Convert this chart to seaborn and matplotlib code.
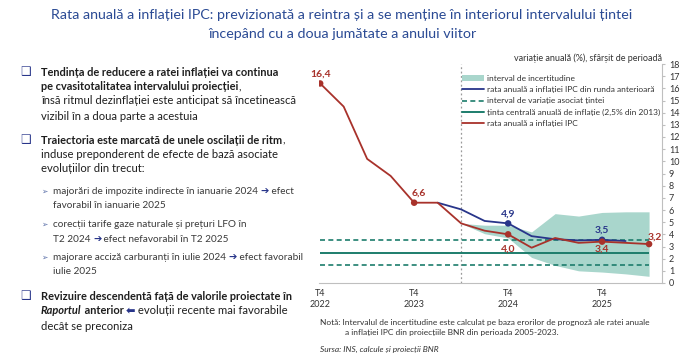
import matplotlib
matplotlib.use("Agg")

import numpy as np
import pandas as pd
import matplotlib.pyplot as plt
import seaborn as sns
from matplotlib.lines import Line2D
from matplotlib.patches import Patch

# ── Data ─────────────────────────────────────────────────────────────────────
quarters = ["T4 2022", "T1 2023", "T2 2023", "T3 2023", "T4 2023", "T1 2024",
            "T2 2024", "T3 2024", "T4 2024", "T1 2025", "T2 2025", "T3 2025",
            "T4 2025", "T1 2026", "T2 2026"]
inflation = [16.4, 14.5, 10.2, 8.8, 6.6, 6.6, 4.9, 4.3, 4.0, 2.9, 3.7, 3.3, 3.4, 3.3, 3.2]

prev_quarters = quarters[5:14]
prev_round = [6.6, 6.05, 5.1, 4.9, 3.85, 3.6, 3.5, 3.55, 3.45]

band_quarters = quarters[6:]
band_low = [4.9, 4.05, 3.7, 2.1, 1.45, 1.0, 0.9, 0.75, 0.55]
band_high = [4.9, 4.75, 4.75, 4.2, 5.7, 5.5, 5.8, 5.85, 5.85]

target = 2.5
target_low = 1.5
target_high = 3.5
last_actual = "T2 2024"

tick_quarters = ["T4 2022", "T4 2023", "T4 2024", "T4 2025"]
tick_labels = ["T4\n2022", "T4\n2023", "T4\n2024", "T4\n2025"]

red_points = ["T4 2022", "T4 2023", "T4 2024", "T4 2025", "T2 2026"]
red_labels = ["16,4", "6,6", "4,0", "3,4", "3,2"]
blue_points = ["T4 2024", "T4 2025"]
blue_labels = ["4,9", "3,5"]

legend_labels = ["interval de incertitudine",
                 "rata anuală a inflației IPC din runda anterioară",
                 "interval de variație asociat țintei",
                 "ținta centrală anuală de inflație (2,5% din 2013)",
                 "rata anuală a inflației IPC"]

# ── Style ────────────────────────────────────────────────────────────────────
sns.set_style("white")
plt.rcParams["font.family"] = ["Lato", "DejaVu Sans"]

RED = "#a8322b"
BLUE = "#28358a"
GREEN = "#1d7d6c"
BAND = "#a9d6cc"
TITLE = "#2a4a94"
TXT = "#1e1e1e"
SUB = "#3a3a3a"
AXIS = "#bfbfbf"

pos = {q: i for i, q in enumerate(quarters)}

W, H = 700, 354
fig = plt.figure(figsize=(W / 100, H / 100), dpi=100)


def fx(x):
    return x / W


def fy(y):
    return 1 - y / H


# ── Chart ────────────────────────────────────────────────────────────────────
ax = fig.add_axes([fx(319), fy(283), fx(662 - 319), (283 - 64) / H])

ax.fill_between([pos[q] for q in band_quarters], band_low, band_high,
                color=BAND, linewidth=0, zorder=1)

n = len(quarters) - 1
ax.hlines(target, 0, n, color=GREEN, lw=1.4, zorder=2)
ax.hlines([target_low, target_high], 0, n, color=GREEN, lw=1.2,
          linestyles=(0, (3, 2)), zorder=2)
ax.axvline(pos[last_actual], color="#9a9a9a", lw=0.9, ls=(0, (1.5, 2)), zorder=1)

sns.lineplot(x=[pos[q] for q in prev_quarters], y=prev_round, color=BLUE,
             lw=1.3, ax=ax, zorder=3)
sns.lineplot(x=[pos[q] for q in quarters], y=inflation, color=RED,
             lw=1.3, ax=ax, zorder=4)

red_vals = [inflation[pos[q]] for q in red_points]
blue_vals = [prev_round[prev_quarters.index(q)] for q in blue_points]
sns.scatterplot(x=[pos[q] for q in blue_points], y=blue_vals, color=BLUE,
                s=22, edgecolor="none", ax=ax, zorder=5)
sns.scatterplot(x=[pos[q] for q in red_points], y=red_vals, color=RED,
                s=22, edgecolor="none", ax=ax, zorder=6)

red_offsets = [(0, 7), (3, 7), (0, -11), (0, -5.5), (4, 5)]
for q, v, lab, off in zip(red_points, red_vals, red_labels, red_offsets):
    ax.annotate(lab, (pos[q], v), xytext=off, textcoords="offset points",
                ha="center", va="center", color=RED, fontsize=7.5,
                fontweight="bold", zorder=7)
for q, v, lab in zip(blue_points, blue_vals, blue_labels):
    ax.annotate(lab, (pos[q], v), xytext=(0, 7), textcoords="offset points",
                ha="center", va="center", color=BLUE, fontsize=7.5,
                fontweight="bold", zorder=7)

ax.set_xlim(-0.05, 14.55)
ax.set_ylim(0, 18)
ax.set_yticks(range(0, 19))
ax.yaxis.tick_right()
ax.set_xticks([pos[q] for q in tick_quarters])
ax.set_xticklabels(tick_labels, linespacing=1.4)
ax.tick_params(axis="y", labelsize=6.5, colors=AXIS, labelcolor="#333333",
               length=2, pad=3)
ax.tick_params(axis="x", labelsize=6.5, colors=AXIS, labelcolor="#333333",
               length=3, direction="in", pad=4)
for side in ["top", "left"]:
    ax.spines[side].set_visible(False)
for side in ["bottom", "right"]:
    ax.spines[side].set_color(AXIS)
    ax.spines[side].set_linewidth(0.8)
ax.set_xlabel("")
ax.set_ylabel("")

handles = [Patch(facecolor=BAND, edgecolor="none"),
           Line2D([], [], color=BLUE, lw=1.3),
           Line2D([], [], color=GREEN, lw=1.2, ls=(0, (3, 2))),
           Line2D([], [], color=GREEN, lw=1.4),
           Line2D([], [], color=RED, lw=1.3)]
leg = fig.legend(handles, legend_labels, loc="upper left",
                 bbox_to_anchor=(fx(462), fy(75)), frameon=False, fontsize=6,
                 handlelength=2.6, handleheight=0.6, labelspacing=0.5,
                 handletextpad=0.4, borderpad=0, borderaxespad=0)
for t in leg.get_texts():
    t.set_color("#333333")

fig.text(fx(662), fy(58), "variație anuală (%), sfârșit de perioadă",
         ha="right", va="center", fontsize=6.5, color="#333333")

# ── Title ────────────────────────────────────────────────────────────────────
fig.text(fx(342), fy(15),
         "Rata anuală a inflației IPC: previzionată a reintra și a se menține în interiorul intervalului țintei",
         ha="center", va="center", fontsize=10.3, color=TITLE)
fig.text(fx(342), fy(34), "începând cu a doua jumătate a anului viitor",
         ha="center", va="center", fontsize=10.3, color=TITLE)

# ── Left text column ─────────────────────────────────────────────────────────
renderer = fig.canvas.get_renderer()


def rich(x, y, parts, size=8.1, color=TXT):
    for txt, kw in parts:
        style = dict(fontsize=size, color=color, va="center", ha="left")
        style.update(kw)
        t = fig.text(fx(x), fy(y), txt, **style)
        x += t.get_window_extent(renderer).width


B = {"fontweight": "bold", "fontsize": 7.9}
R = {}
ARW = {"color": BLUE, "fontweight": "bold", "family": ["DejaVu Sans"]}

for y in [72, 140, 296]:
    fig.text(fx(20), fy(y), "❑", fontsize=8.5, color=BLUE, va="center",
             ha="left", family=["DejaVu Sans"])

rich(41, 72, [("Tendința de reducere a ratei inflației va continua", B)])
rich(41, 87, [("pe cvasitotalitatea intervalului proiecției", B), (",", R)])
rich(41, 101, [("însă ritmul dezinflației este anticipat să încetinească", R)])
rich(41, 116, [("vizibil în a doua parte a acestuia", R)])

rich(41, 140, [("Traiectoria este marcată de unele oscilații de ritm", B), (",", R)])
rich(41, 154, [("induse preponderent de efecte de bază asociate", R)])
rich(41, 169, [("evoluțiilor din trecut:", R)])

for y in [191, 224, 257]:
    fig.text(fx(41), fy(y), "➢", fontsize=5.5, color="#5a6fa8", va="center",
             ha="left", family=["DejaVu Sans"])

sub = 7.2
rich(53, 191, [("majorări de impozite indirecte în ianuarie 2024 ", R), ("➔", ARW),
               (" efect", R)], size=sub, color=SUB)
rich(53, 205, [("favorabil în ianuarie 2025", R)], size=sub, color=SUB)
rich(53, 224, [("corecții tarife gaze naturale și prețuri LFO în", R)], size=sub, color=SUB)
rich(53, 239, [("T2 2024 ", R), ("➔", ARW), (" efect nefavorabil în T2 2025", R)],
     size=sub, color=SUB)
rich(53, 257, [("majorare acciză carburanți în iulie 2024 ", R), ("➔", ARW),
               (" efect favorabil", R)], size=sub, color=SUB)
rich(53, 272, [("iulie 2025", R)], size=sub, color=SUB)

rich(41, 296, [("Revizuire descendentă față de valorile proiectate în", B)])
rich(41, 311, [("Raportul", {"fontweight": "bold", "fontstyle": "italic", "fontsize": 7.9}),
               (" anterior ", B), ("⬅", ARW), (" evoluții recente mai favorabile", R)])
rich(41, 326, [("decât se preconiza", R)])

# ── Notes ────────────────────────────────────────────────────────────────────
fig.text(fx(320), fy(322),
         "Notă: Intervalul de incertitudine este calculat pe baza erorilor de prognoză ale ratei anuale",
         fontsize=6, color="#333333", va="center")
fig.text(fx(345), fy(332),
         "a inflației IPC din proiecțiile BNR din perioada 2005-2023.",
         fontsize=6, color="#333333", va="center")
fig.text(fx(320), fy(349), "Sursa: INS, calcule și proiecții BNR",
         fontsize=6, color="#333333", va="center", fontstyle="italic")

fig.savefig("out.png", dpi=100)
